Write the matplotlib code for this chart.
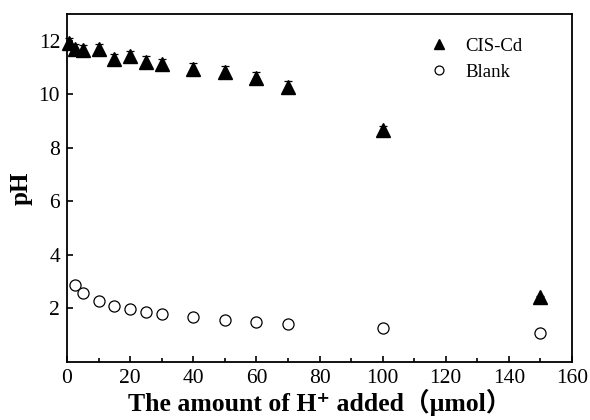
import matplotlib
matplotlib.use("Agg")
import matplotlib.pyplot as plt
from matplotlib.ticker import MultipleLocator

plt.rcParams['font.family'] = ['Liberation Serif', 'DejaVu Serif', 'Noto Sans CJK SC']

# CIS-Cd
x_cis = [0.5, 2.5, 5, 10, 15, 20, 25, 30, 40, 50, 60, 70, 100, 150]
ph_cis = [11.9, 11.68, 11.65, 11.68, 11.32, 11.43, 11.22, 11.13, 10.96, 10.85, 10.62, 10.28, 8.66, 2.43]
err_cis = [0.2, 0.2, 0.2, 0.2, 0.2, 0.2, 0.2, 0.2, 0.2, 0.2, 0.2, 0.2, 0.15, 0.05]

# Blank
x_blank = [2.5, 5, 10, 15, 20, 25, 30, 40, 50, 60, 70, 100, 150]
ph_blank = [2.88, 2.59, 2.28, 2.09, 1.97, 1.88, 1.79, 1.67, 1.57, 1.49, 1.43, 1.26, 1.1]
err_blank = [0.05, 0.05, 0.05, 0.05, 0.06, 0.08, 0.1, 0.1, 0.1, 0.1, 0.1, 0.1, 0.1]

fig = plt.figure(figsize=(5.9, 4.2), dpi=100)
ax = fig.add_axes([0.1136, 0.138, 0.8559, 0.8287])

ax.errorbar(x_cis, ph_cis, yerr=err_cis, fmt='^', color='black', markersize=9.5,
            ecolor='black', elinewidth=0.9, capsize=3, capthick=0.9, label='CIS-Cd', clip_on=False)
ax.errorbar(x_blank, ph_blank, yerr=err_blank, fmt='o', mfc='white', mec='black', markersize=8,
            mew=0.9, ecolor='black', elinewidth=0.7, capsize=2.5, capthick=0.7, label='Blank')

ax.set_xlim(0, 160)
ax.set_ylim(0, 13)
ax.xaxis.set_major_locator(MultipleLocator(20))
ax.xaxis.set_minor_locator(MultipleLocator(10))
ax.set_yticks([2, 4, 6, 8, 10, 12])
ax.tick_params(which='both', direction='in', labelsize=15.5, width=1.2)
ax.tick_params(which='major', length=4, pad=5)
ax.tick_params(which='minor', length=3)
for s in ax.spines.values():
    s.set_linewidth(1.3)

ax.set_xlabel('The amount of H⁺ added（μmol）', fontsize=18.5, fontweight='bold', labelpad=1)
ax.set_ylabel('pH', fontsize=18, fontweight='bold', labelpad=4)

h, l = ax.get_legend_handles_labels()
h = [hh[0] for hh in h]
leg = ax.legend(h, l, loc='upper left', bbox_to_anchor=(0.685, 0.98), frameon=False,
                fontsize=13.5, handlelength=1.0, handletextpad=0.9, labelspacing=0.45, markerscale=0.8)

fig.savefig('out.png', dpi=100)
